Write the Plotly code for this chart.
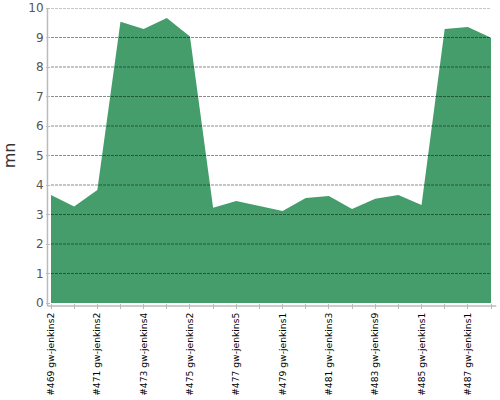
import plotly.graph_objects as go

builds = list(range(469, 489))
durations = [3.66, 3.27, 3.83, 9.53, 9.29, 9.66, 9.03, 3.23, 3.46, 3.28,
             3.12, 3.56, 3.63, 3.19, 3.53, 3.66, 3.32, 9.29, 9.36, 8.99]
label_builds = [469, 471, 473, 475, 477, 479, 481, 483, 485, 487]
label_hosts = ["gw-jenkins2", "gw-jenkins2", "gw-jenkins4", "gw-jenkins2", "gw-jenkins5",
               "gw-jenkins1", "gw-jenkins3", "gw-jenkins9", "gw-jenkins1", "gw-jenkins1"]
tick_text = [f"#{b} {h}" for b, h in zip(label_builds, label_hosts)]
y_ticks = list(range(0, 11))

fig = go.Figure()
fig.add_trace(go.Scatter(
    x=builds, y=durations, mode="lines", fill="tozeroy",
    line=dict(color="#459d6b", width=0), fillcolor="#459d6b",
    hoverinfo="x+y", showlegend=False,
))

grid_shapes = [
    dict(type="line", xref="paper", yref="y", x0=0, x1=1, y0=v, y1=v, layer="above",
         line=dict(color="rgba(0,0,0,0.45)", width=1, dash="3px,1px"))
    for v in y_ticks[1:]
]
axis_shapes = [
    dict(type="line", xref="paper", yref="paper", x0=-0.008, x1=-0.008, y0=-0.01, y1=1.0,
         line=dict(color="#bbb", width=1.5)),
    dict(type="line", xref="paper", yref="paper", x0=-0.008, x1=1.012, y0=-0.01, y1=-0.01,
         line=dict(color="#bbb", width=1.5)),
]

fig.update_layout(
    width=500, height=400,
    margin=dict(l=51, r=9, t=8, b=97),
    paper_bgcolor="white", plot_bgcolor="white",
    font=dict(family="DejaVu Sans", color="#555"),
    xaxis=dict(
        range=[builds[0], builds[-1]], automargin=False,
        tickvals=label_builds, ticktext=tick_text, tickangle=-90,
        tickfont=dict(size=9.2, color="black"),
        showgrid=False, zeroline=False, showline=False,
        ticks="outside", ticklen=5, tickcolor="#bbb",
        minor=dict(tickvals=builds, ticks="outside", ticklen=5, tickcolor="#bbb"),
    ),
    yaxis=dict(
        range=[0, 10], tickvals=y_ticks, automargin=False,
        tickfont=dict(size=12, color="#555"),
        showgrid=False, zeroline=False, showline=False,
        ticks="outside", ticklen=4, tickcolor="#bbb",
        title=dict(text="mn", font=dict(size=16, color="#333"), standoff=14),
    ),
    shapes=grid_shapes + axis_shapes,
)

fig.write_html("out.html", config={"displayModeBar": False},
               post_script="document.body.style.margin='0';document.body.style.overflow='hidden';")
